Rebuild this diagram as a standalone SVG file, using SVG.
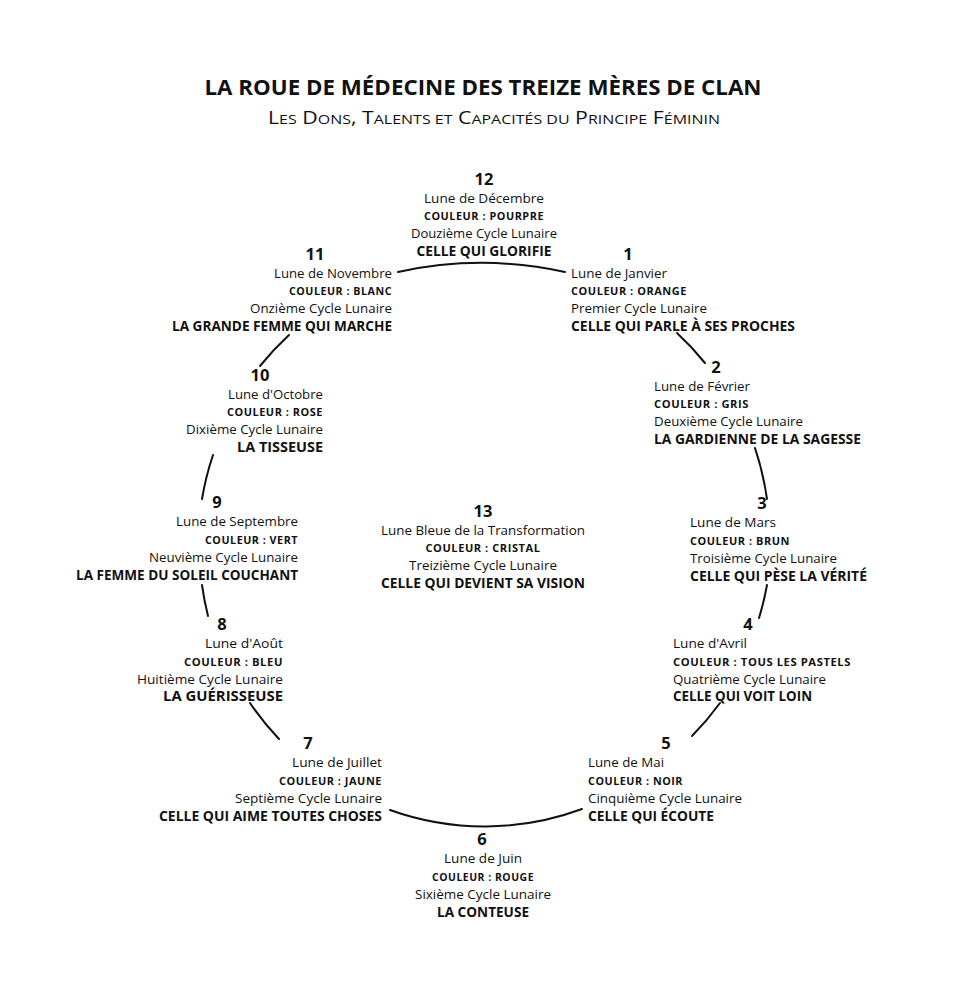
<svg xmlns="http://www.w3.org/2000/svg" width="960" height="998" viewBox="0 0 960 998">
<style>
text{fill:#111;font-family:"Open Sans","Liberation Sans",sans-serif}
.t{font-weight:bold;font-size:22px}
.st{font-size:18px}
.sc{font-size:13.5px}
.n{font-weight:bold;font-size:16.5px}
.r{font-size:13.5px}
.c{font-weight:bold;font-size:10px;letter-spacing:0.5px}
.b{font-weight:bold;font-size:13.5px}
.m{text-anchor:middle}
.e{text-anchor:end}
.con path{fill:none;stroke:#111;stroke-width:2;stroke-linecap:round}
</style>
<rect width="960" height="998" fill="#fff"/>
<g id="title">
<text class="t m" x="483" y="95" textLength="557" lengthAdjust="spacingAndGlyphs">LA ROUE DE MÉDECINE DES TREIZE MÈRES DE CLAN</text>
<text class="st m" x="494" y="124" textLength="452" lengthAdjust="spacingAndGlyphs">L<tspan class="sc">ES</tspan> D<tspan class="sc">ONS</tspan>, T<tspan class="sc">ALENTS ET</tspan> C<tspan class="sc">APACITÉS DU</tspan> P<tspan class="sc">RINCIPE</tspan> F<tspan class="sc">ÉMININ</tspan></text>
</g>
<g class="con" id="connectors">
<path d="M398,272 A390,390 0 0 1 565,272"/>
<path d="M677,333 A285,285 0 0 1 705,363"/>
<path d="M755,448 A285,285 0 0 1 767,499"/>
<path d="M767,585 A285,285 0 0 1 759,618"/>
<path d="M720,703 A285,285 0 0 1 692,736"/>
<path d="M582,809 A280,280 0 0 1 390,810"/>
<path d="M279,739 A285,285 0 0 1 250,703"/>
<path d="M208,616 A285,285 0 0 1 202,585"/>
<path d="M202,499 A285,285 0 0 1 213,455"/>
<path d="M260,366 A285,285 0 0 1 289,335"/>
</g>
<g id="node12">
<text class="n m" x="484" y="185">12</text>
<text class="r m" x="484" y="203" textLength="120" lengthAdjust="spacingAndGlyphs">Lune de Décembre</text>
<text class="c m" x="484" y="220" textLength="120" lengthAdjust="spacingAndGlyphs">COULEUR : POURPRE</text>
<text class="r m" x="484" y="238" textLength="146" lengthAdjust="spacingAndGlyphs">Douzième Cycle Lunaire</text>
<text class="b m" x="484" y="256" textLength="135" lengthAdjust="spacingAndGlyphs">CELLE QUI GLORIFIE</text>
</g>
<g id="node11">
<text class="n m" x="315" y="260">11</text>
<text class="r e" x="392" y="278" textLength="118" lengthAdjust="spacingAndGlyphs">Lune de Novembre</text>
<text class="c e" x="392" y="295" textLength="103" lengthAdjust="spacingAndGlyphs">COULEUR : BLANC</text>
<text class="r e" x="392" y="313" textLength="142" lengthAdjust="spacingAndGlyphs">Onzième Cycle Lunaire</text>
<text class="b e" x="392" y="331" textLength="220" lengthAdjust="spacingAndGlyphs">LA GRANDE FEMME QUI MARCHE</text>
</g>
<g id="node1">
<text class="n m" x="628" y="260">1</text>
<text class="r" x="571" y="278" textLength="96" lengthAdjust="spacingAndGlyphs">Lune de Janvier</text>
<text class="c" x="571" y="295" textLength="116" lengthAdjust="spacingAndGlyphs">COULEUR : ORANGE</text>
<text class="r" x="571" y="313" textLength="136" lengthAdjust="spacingAndGlyphs">Premier Cycle Lunaire</text>
<text class="b" x="571" y="331" textLength="224" lengthAdjust="spacingAndGlyphs">CELLE QUI PARLE À SES PROCHES</text>
</g>
<g id="node2">
<text class="n m" x="716" y="373">2</text>
<text class="r" x="654" y="391" textLength="96" lengthAdjust="spacingAndGlyphs">Lune de Février</text>
<text class="c" x="654" y="408" textLength="95" lengthAdjust="spacingAndGlyphs">COULEUR : GRIS</text>
<text class="r" x="654" y="426" textLength="149" lengthAdjust="spacingAndGlyphs">Deuxième Cycle Lunaire</text>
<text class="b" x="654" y="444" textLength="207" lengthAdjust="spacingAndGlyphs">LA GARDIENNE DE LA SAGESSE</text>
</g>
<g id="node10">
<text class="n m" x="260" y="381">10</text>
<text class="r e" x="323" y="399" textLength="95" lengthAdjust="spacingAndGlyphs">Lune d'Octobre</text>
<text class="c e" x="323" y="416" textLength="96" lengthAdjust="spacingAndGlyphs">COULEUR : ROSE</text>
<text class="r e" x="323" y="434" textLength="137" lengthAdjust="spacingAndGlyphs">Dixième Cycle Lunaire</text>
<text class="b e" x="323" y="452" textLength="86" lengthAdjust="spacingAndGlyphs">LA TISSEUSE</text>
</g>
<g id="node9">
<text class="n m" x="217" y="508">9</text>
<text class="r e" x="298" y="526" textLength="122" lengthAdjust="spacingAndGlyphs">Lune de Septembre</text>
<text class="c e" x="298" y="544" textLength="93" lengthAdjust="spacingAndGlyphs">COULEUR : VERT</text>
<text class="r e" x="298" y="562" textLength="149" lengthAdjust="spacingAndGlyphs">Neuvième Cycle Lunaire</text>
<text class="b e" x="298" y="580" textLength="222" lengthAdjust="spacingAndGlyphs">LA FEMME DU SOLEIL COUCHANT</text>
</g>
<g id="node13">
<text class="n m" x="483" y="517">13</text>
<text class="r m" x="483" y="535" textLength="204" lengthAdjust="spacingAndGlyphs">Lune Bleue de la Transformation</text>
<text class="c m" x="483" y="552" textLength="115" lengthAdjust="spacingAndGlyphs">COULEUR : CRISTAL</text>
<text class="r m" x="483" y="570" textLength="148" lengthAdjust="spacingAndGlyphs">Treizième Cycle Lunaire</text>
<text class="b m" x="483" y="588" textLength="204" lengthAdjust="spacingAndGlyphs">CELLE QUI DEVIENT SA VISION</text>
</g>
<g id="node3">
<text class="n m" x="762" y="509">3</text>
<text class="r" x="690" y="527" textLength="86" lengthAdjust="spacingAndGlyphs">Lune de Mars</text>
<text class="c" x="690" y="545" textLength="100" lengthAdjust="spacingAndGlyphs">COULEUR : BRUN</text>
<text class="r" x="690" y="563" textLength="147" lengthAdjust="spacingAndGlyphs">Troisième Cycle Lunaire</text>
<text class="b" x="690" y="581" textLength="177" lengthAdjust="spacingAndGlyphs">CELLE QUI PÈSE LA VÉRITÉ</text>
</g>
<g id="node8">
<text class="n m" x="222" y="630">8</text>
<text class="r e" x="283" y="648" textLength="78" lengthAdjust="spacingAndGlyphs">Lune d'Août</text>
<text class="c e" x="283" y="666" textLength="99" lengthAdjust="spacingAndGlyphs">COULEUR : BLEU</text>
<text class="r e" x="283" y="684" textLength="146" lengthAdjust="spacingAndGlyphs">Huitième Cycle Lunaire</text>
<text class="b e" x="283" y="701" textLength="120" lengthAdjust="spacingAndGlyphs">LA GUÉRISSEUSE</text>
</g>
<g id="node4">
<text class="n m" x="748" y="630">4</text>
<text class="r" x="673" y="648" textLength="74" lengthAdjust="spacingAndGlyphs">Lune d'Avril</text>
<text class="c" x="673" y="666" textLength="178" lengthAdjust="spacingAndGlyphs">COULEUR : TOUS LES PASTELS</text>
<text class="r" x="673" y="684" textLength="153" lengthAdjust="spacingAndGlyphs">Quatrième Cycle Lunaire</text>
<text class="b" x="673" y="701" textLength="139" lengthAdjust="spacingAndGlyphs">CELLE QUI VOIT LOIN</text>
</g>
<g id="node7">
<text class="n m" x="308" y="749">7</text>
<text class="r e" x="382" y="767" textLength="90" lengthAdjust="spacingAndGlyphs">Lune de Juillet</text>
<text class="c e" x="382" y="785" textLength="103" lengthAdjust="spacingAndGlyphs">COULEUR : JAUNE</text>
<text class="r e" x="382" y="803" textLength="147" lengthAdjust="spacingAndGlyphs">Septième Cycle Lunaire</text>
<text class="b e" x="382" y="821" textLength="223" lengthAdjust="spacingAndGlyphs">CELLE QUI AIME TOUTES CHOSES</text>
</g>
<g id="node5">
<text class="n m" x="666" y="749">5</text>
<text class="r" x="588" y="767" textLength="76" lengthAdjust="spacingAndGlyphs">Lune de Mai</text>
<text class="c" x="588" y="785" textLength="95" lengthAdjust="spacingAndGlyphs">COULEUR : NOIR</text>
<text class="r" x="588" y="803" textLength="154" lengthAdjust="spacingAndGlyphs">Cinquième Cycle Lunaire</text>
<text class="b" x="588" y="821" textLength="126" lengthAdjust="spacingAndGlyphs">CELLE QUI ÉCOUTE</text>
</g>
<g id="node6">
<text class="n m" x="482" y="845">6</text>
<text class="r m" x="483" y="863" textLength="78" lengthAdjust="spacingAndGlyphs">Lune de Juin</text>
<text class="c m" x="483" y="881" textLength="102" lengthAdjust="spacingAndGlyphs">COULEUR : ROUGE</text>
<text class="r m" x="483" y="899" textLength="136" lengthAdjust="spacingAndGlyphs">Sixième Cycle Lunaire</text>
<text class="b m" x="483" y="917" textLength="92" lengthAdjust="spacingAndGlyphs">LA CONTEUSE</text>
</g>
</svg>
